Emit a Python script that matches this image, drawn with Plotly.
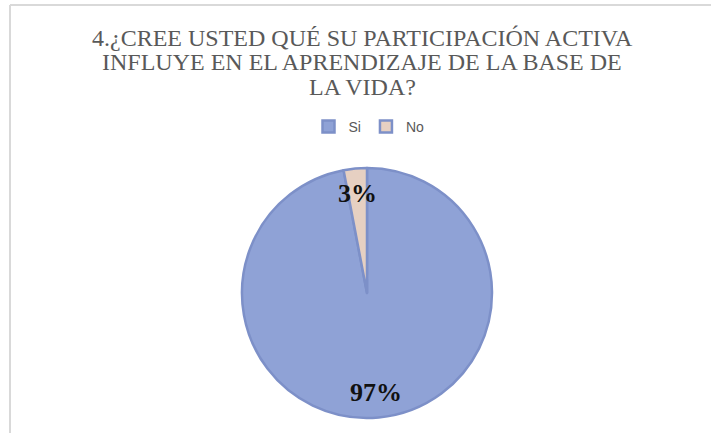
import math
import plotly.graph_objects as go

labels = ["Si", "No"]
values = [97, 3]
colors = ["#8FA2D6", "#E6D0C2"]
title_lines = [
    "4.¿CREE USTED QUÉ SU PARTICIPACIÓN ACTIVA",
    "INFLUYE EN EL APRENDIZAJE DE LA BASE DE",
    "LA VIDA?",
]

W, H = 711, 433
# pie placement (pixels)
CX, CY, R = 367, 293, 125
LABEL_FRAC = 0.80

fig = go.Figure()
fig.add_trace(go.Pie(
    labels=labels,
    values=values,
    sort=False,
    direction="clockwise",
    rotation=0,
    marker=dict(colors=colors, line=dict(color="#7D90C8", width=2.5)),
    textinfo="none",
    domain=dict(x=[(CX - R) / W, (CX + R) / W], y=[(H - CY - R) / H, (H - CY + R) / H]),
    hoverinfo="label+percent",
))

# data labels positioned at each slice's mid-angle (Excel-like "best fit")
total = sum(values)
start = 0.0
for v in values:
    frac = v / total
    mid = (start + frac / 2) * 2 * math.pi
    start += frac
    px = CX + LABEL_FRAC * R * math.sin(mid)
    py = CY - LABEL_FRAC * R * math.cos(mid)
    fig.add_annotation(
        text=f"{round(frac * 100)}%", x=px / W, y=1 - py / H,
        xref="paper", yref="paper", showarrow=False,
        xanchor="center", yanchor="middle",
        font=dict(family="Liberation Serif", size=26, color="#111111", weight="bold"),
    )

line_y = [38, 62, 87]
for txt, yy in zip(title_lines, line_y):
    fig.add_annotation(
        text=txt, x=362 / W, y=1 - yy / H, xref="paper", yref="paper",
        xanchor="center", yanchor="middle", showarrow=False,
        font=dict(family="Liberation Serif, DejaVu Serif, serif", size=24, color="#595959"),
    )

# frame lines (left and top)
fig.add_shape(type="line", xref="paper", yref="paper",
              x0=10 / W, x1=10 / W, y0=0, y1=1 - 5 / H,
              line=dict(color="#D9D9D9", width=2))
fig.add_shape(type="line", xref="paper", yref="paper",
              x0=10 / W, x1=1, y0=1 - 5 / H, y1=1 - 5 / H,
              line=dict(color="#D9D9D9", width=2))

fig.update_layout(
    width=W, height=H,
    margin=dict(l=0, r=0, t=0, b=0),
    paper_bgcolor="white",
    plot_bgcolor="white",
    showlegend=True,
    legend=dict(
        orientation="h", x=369 / W, xanchor="center", y=1 - 127 / H, yanchor="middle",
        font=dict(family="Liberation Sans", size=14, color="#595959"),
        itemwidth=30, traceorder="normal",
    ),
)

fig.write_html("out.html")
